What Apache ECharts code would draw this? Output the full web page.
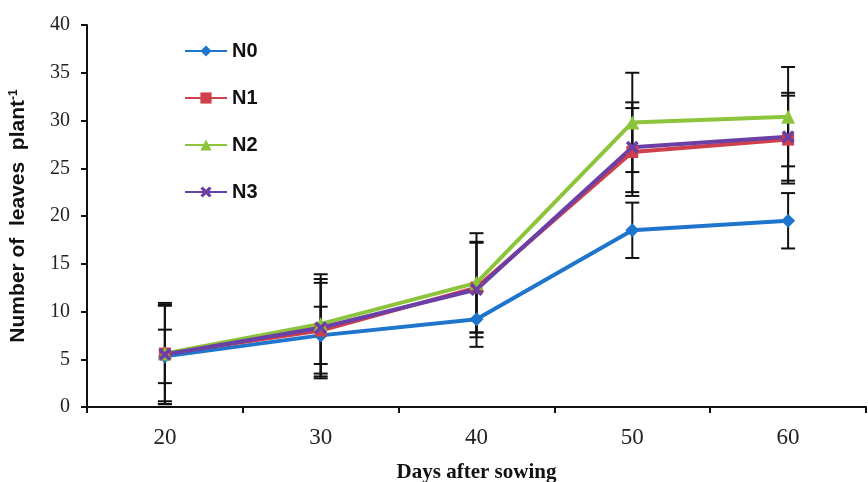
<!DOCTYPE html>
<html><head><meta charset="utf-8">
<script src="https://cdn.jsdelivr.net/npm/echarts@6/dist/echarts.min.js"></script>
<style>html,body{margin:0;padding:0;background:#fff}#c{width:868px;height:482px}</style>
</head><body><div id="c"></div>
<script>
const categories = ['20', '30', '40', '50', '60'];
const yTicks = [0, 5, 10, 15, 20, 25, 30, 35, 40];
const N0 = [5.3, 7.5, 9.2, 18.5, 19.5];
const N1 = [5.6, 8.0, 12.5, 26.7, 28.0];
const N2 = [5.6, 8.7, 13.0, 29.8, 30.4];
const N3 = [5.5, 8.3, 12.3, 27.2, 28.3];
const N0err = [2.8, 3.0, 2.9, 2.9, 2.9];
const N1err = [5.0, 5.0, 4.7, 4.6, 4.6];
const N2err = [5.3, 5.2, 5.2, 5.2, 5.2];
const N3err = [5.2, 5.1, 5.0, 4.7, 4.6];

const names = ['N0', 'N1', 'N2', 'N3'];
const means = [N0, N1, N2, N3];
const errs = [N0err, N1err, N2err, N3err];
const colors = ['#1f75cc', '#cf3f4c', '#8cc43c', '#6a3fa6'];
const xPath = 'path://M0,2 L2,0 L5,3 L8,0 L10,2 L7,5 L10,8 L8,10 L5,7 L2,10 L0,8 L3,5 Z';
const symbols = ['diamond', 'rect', 'triangle', xPath];
const symSizes = [14, 12, 14, 13];

const series = [];
means.forEach((m, s) => {
  series.push({
    type: 'custom',
    name: names[s] + ' err',
    z: 1,
    silent: true,
    data: m.map((v, i) => [i, v - errs[s][i], v + errs[s][i]]),
    renderItem: function (params, api) {
      const lo = api.coord([api.value(0), api.value(1)]);
      const hi = api.coord([api.value(0), api.value(2)]);
      const w = 7;
      const st = { stroke: '#111', lineWidth: 2 };
      return {
        type: 'group',
        children: [
          { type: 'line', shape: { x1: lo[0], y1: lo[1], x2: hi[0], y2: hi[1] }, style: st },
          { type: 'line', shape: { x1: lo[0] - w, y1: lo[1], x2: lo[0] + w, y2: lo[1] }, style: st },
          { type: 'line', shape: { x1: hi[0] - w, y1: hi[1], x2: hi[0] + w, y2: hi[1] }, style: st }
        ]
      };
    }
  });
});
means.forEach((m, s) => {
  series.push({
    type: 'line',
    name: names[s],
    data: m,
    z: 3,
    color: colors[s],
    lineStyle: { width: 4, color: colors[s] },
    itemStyle: { color: colors[s] },
    symbol: symbols[s],
    symbolSize: symSizes[s],
    showSymbol: true
  });
});

const chart = echarts.init(document.getElementById('c'));
chart.setOption({
  animation: false,
  backgroundColor: '#fff',
  grid: { left: 87, right: 2, top: 25, bottom: 75, containLabel: false, outerBoundsMode: 'none' },
  legend: {
    data: names,
    orient: 'vertical',
    left: 179,
    top: 36,
    itemWidth: 42,
    itemHeight: 14,
    itemGap: 27,
    textStyle: { fontFamily: 'Liberation Sans', fontWeight: 'bold', fontSize: 20, color: '#111' }
  },
  xAxis: {
    type: 'category',
    data: categories,
    boundaryGap: true,
    name: 'Days after sowing',
    nameLocation: 'middle',
    nameGap: 55,
    nameTextStyle: { fontFamily: 'Liberation Serif', fontWeight: 'bold', fontSize: 21, color: '#111' },
    axisLine: { lineStyle: { color: '#111', width: 2 } },
    axisTick: { show: true, length: 6, lineStyle: { color: '#111', width: 2 } },
    axisLabel: { fontFamily: 'Liberation Serif', fontSize: 23, color: '#222', margin: 19 },
    splitLine: { show: false }
  },
  yAxis: {
    type: 'value',
    min: yTicks[0],
    max: yTicks[yTicks.length - 1],
    interval: yTicks[1] - yTicks[0],
    name: 'Number of  leaves  plant{sup|-1}',
    nameLocation: 'middle',
    nameGap: 58,
    nameRotate: 90,
    nameTextStyle: {
      fontFamily: 'Liberation Sans', fontWeight: 'bold', fontSize: 21, color: '#111',
      rich: { sup: { fontFamily: 'Liberation Sans', fontWeight: 'bold', fontSize: 12, color: '#111', verticalAlign: 'top', padding: [0, 0, 9, 0] } }
    },
    axisLine: { show: true, lineStyle: { color: '#111', width: 2 } },
    axisTick: { show: true, length: 6, lineStyle: { color: '#111', width: 2 } },
    axisLabel: { fontFamily: 'Liberation Serif', fontSize: 20, color: '#222', margin: 17 },
    splitLine: { show: false }
  },
  series: series
});
</script>
</body></html>
